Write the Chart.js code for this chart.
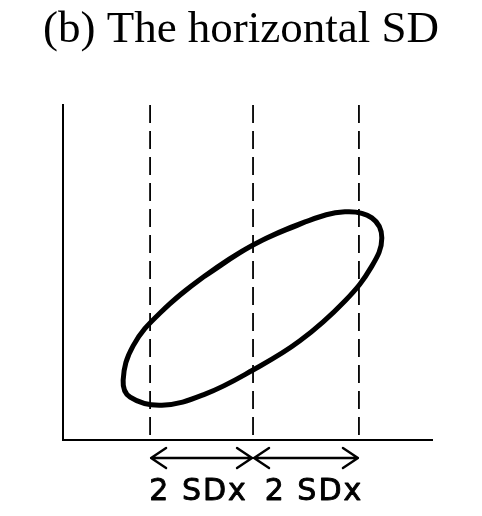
<!DOCTYPE html>
<html>
<head>
<meta charset="utf-8">
<script src="https://cdn.jsdelivr.net/npm/chart.js@4"></script>
<style>
html,body{margin:0;padding:0;background:#fff;}
#wrap{width:482px;height:516px;position:relative;}
</style>
</head>
<body>
<div id="wrap"><canvas id="c" width="482" height="516"></canvas></div>
<script>
const titleText = "(b) The horizontal SD";
// ellipse outline (data units, axes 0..100), clockwise
const ellipseX = [51.5, 65.6, 76.4, 83.7, 86.4, 83.7, 76.4, 64.2, 51.5, 38.5, 26.8, 18.2, 16.3, 19.0, 26.3, 38.5];
const ellipseY = [58.2, 65.1, 68.1, 66.3, 60.3, 51.9, 41.5, 29.6, 20.9, 13.7, 10.4, 12.8, 17.9, 28.1, 37.9, 49.0];
// vertical dashed lines: mean - 2SD, mean, mean + 2SD
const sdLineX = [23.6, 51.5, 80.2];
const sdLineY = [100, 0];
const arrowLabels = ["2 SDx", "2 SDx"];
const axisRange = {xMin: 0, xMax: 100, yMin: 0, yMax: 100};

// closed smooth loop: wrap one point before and after
const n = ellipseX.length;
const loopIdx = [n - 1].concat([...Array(n).keys()], [0, 1]);
const datasets = [];
datasets.push({
  data: loopIdx.map(i => ({x: ellipseX[i], y: ellipseY[i]})),
  showLine: true, borderColor: '#000', borderWidth: 5, pointRadius: 0, tension: 0.4, fill: false,
  borderCapStyle: 'round', borderJoinStyle: 'round'
});
sdLineX.forEach(x => {
  datasets.push({
    data: sdLineY.map(y => ({x: x, y: y})),
    showLine: true, borderColor: '#000', borderWidth: 1.8, borderDash: [18, 8], pointRadius: 0
  });
});

const annotPlugin = {
  id: 'annot',
  afterDraw(chart) {
    const ctx = chart.ctx;
    const xs = chart.scales.x;
    const px = sdLineX.map(v => xs.getPixelForValue(v));
    const ay = 458, ty = 492;
    const labelShift = [-3, 8];
    ctx.save();
    // title
    ctx.fillStyle = '#000';
    ctx.font = '45px "Liberation Serif", "Times New Roman", serif';
    ctx.textAlign = 'center';
    ctx.textBaseline = 'alphabetic';
    ctx.fillText(titleText, chart.width / 2, 42);
    // arrows and labels
    ctx.strokeStyle = '#000';
    ctx.lineWidth = 2.4;
    ctx.lineCap = 'round';
    ctx.lineJoin = 'round';
    for (let i = 0; i < px.length - 1; i++) {
      const a = px[i] + 1, b = px[i + 1] - 1;
      ctx.beginPath();
      ctx.moveTo(a, ay); ctx.lineTo(b, ay);
      ctx.moveTo(a + 15, ay - 10); ctx.lineTo(a, ay); ctx.lineTo(a + 15, ay + 10);
      ctx.moveTo(b - 15, ay - 10); ctx.lineTo(b, ay); ctx.lineTo(b - 15, ay + 10);
      ctx.stroke();
    }
    ctx.font = '30px "DejaVu Sans"';
    if ('letterSpacing' in ctx) ctx.letterSpacing = '2px';
    ctx.textBaseline = 'middle';
    ctx.lineWidth = 0.9;
    for (let i = 0; i < px.length - 1; i++) {
      const cx = (px[i] + px[i + 1]) / 2 + labelShift[i];
      ctx.fillText(arrowLabels[i], cx, ty);
      ctx.strokeText(arrowLabels[i], cx, ty);
    }
    ctx.restore();
  }
};

new Chart(document.getElementById('c'), {
  type: 'scatter',
  data: {datasets: datasets},
  options: {
    responsive: false,
    animation: false,
    events: [],
    layout: {padding: {left: 63, right: 50, top: 105, bottom: 76}},
    plugins: {
      legend: {display: false},
      tooltip: {enabled: false},
      title: {display: false}
    },
    scales: {
      x: {
        type: 'linear', min: axisRange.xMin, max: axisRange.xMax,
        grid: {display: false, drawTicks: false},
        ticks: {display: false},
        border: {display: true, color: '#000', width: 2}
      },
      y: {
        type: 'linear', min: axisRange.yMin, max: axisRange.yMax,
        grid: {display: false, drawTicks: false},
        ticks: {display: false},
        border: {display: true, color: '#000', width: 2}
      }
    }
  },
  plugins: [annotPlugin]
});
</script>
</body>
</html>
